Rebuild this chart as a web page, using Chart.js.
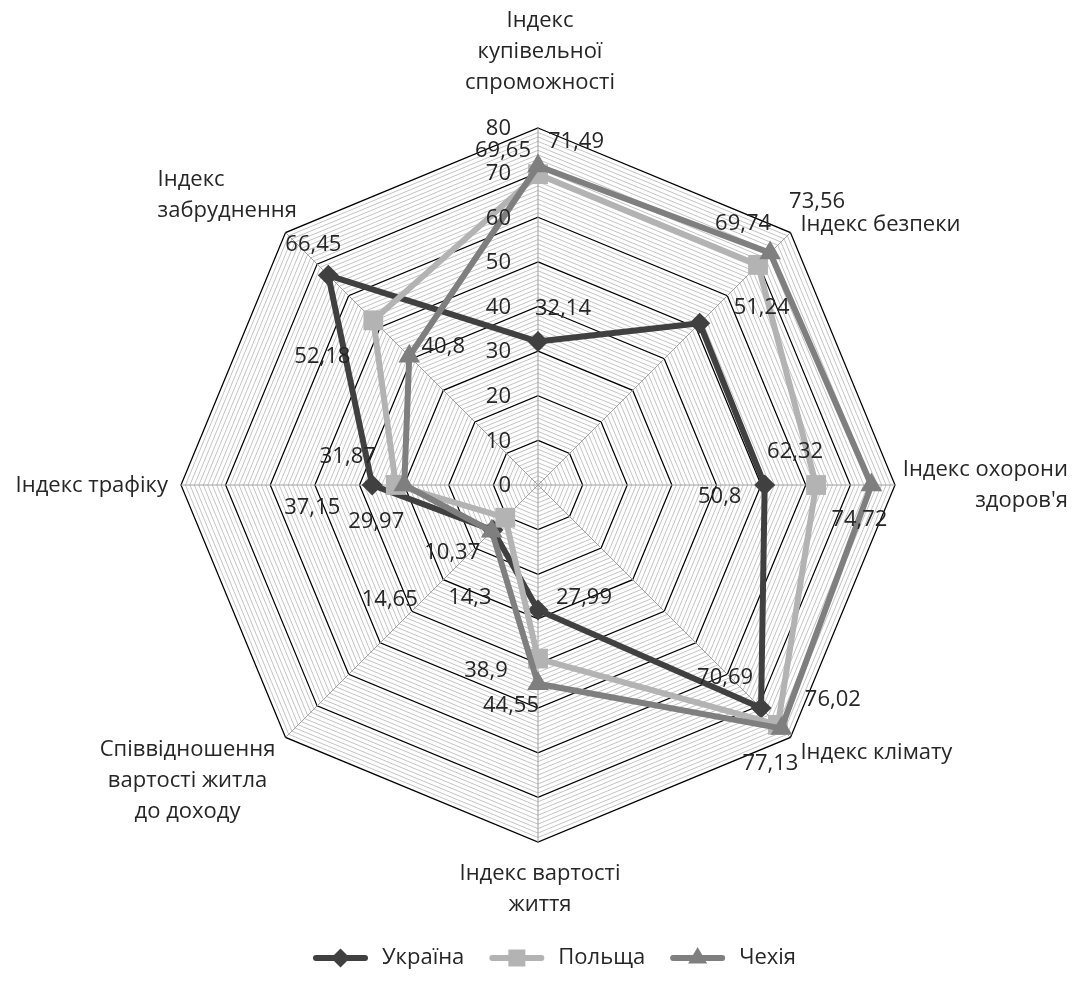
<!DOCTYPE html>
<html>
<head>
<meta charset="utf-8">
<script src="https://cdn.jsdelivr.net/npm/chart.js@4/dist/chart.umd.min.js"></script>
<style>
html,body{margin:0;padding:0;background:#ffffff;}
canvas{display:block;}
</style>
</head>
<body>
<canvas id="chart" width="1080" height="994"></canvas>
<script>
// ---------- DATA ----------
const categories = [
  ["Індекс", "купівельної", "спроможності"],
  ["Індекс безпеки"],
  ["Індекс охорони", "здоров'я"],
  ["Індекс клімату"],
  ["Індекс вартості", "життя"],
  ["Співвідношення", "вартості житла", "до доходу"],
  ["Індекс трафіку"],
  ["Індекс", "забруднення"]
];
const seriesNames = ["Україна", "Польща", "Чехія"];
const ukraine = [32.14, 51.24, 50.8, 70.69, 27.99, 14.3, 37.15, 66.45];
const poland  = [69.65, 69.74, 62.32, 76.02, 38.9, 10.37, 31.87, 52.18];
const czechia = [71.49, 73.56, 74.72, 77.13, 44.55, 14.65, 29.97, 40.8];
const tickValues = [0, 10, 20, 30, 40, 50, 60, 70, 80];

// ---------- STYLE / LAYOUT ----------
const FONT = "22px 'Open Sans', 'Noto Sans', sans-serif";
const TEXT = "#262626";
const colors = ["#404040", "#b3b3b3", "#7f7f7f"];
const markers = ["rectRot", "rect", "triangle"];
const markerRadius = [10.5, 14, 12.5];
const LINE_H = 31;

// category label placement relative to the outer vertex
const catLayout = [
  {dx: 2,    dy: -107, align: "center"},
  {dx: 10,   dy: -8,   align: "left"},
  {dx: 173,  dy: -15,  align: "right"},
  {dx: 10,   dy: 15,   align: "left"},
  {dx: 2,    dy: 32,   align: "center"},
  {dx: -98,  dy: 12,   align: "center"},
  {dx: -13,  dy: 1,    align: "right"},
  {dx: -128, dy: -53,  align: "left"}
];

// value label offsets (label centre relative to the point)
const valueOffsets = [
  [[25,-33],[62,-16],[-45,12],[-36,-30],[46,-12],[-23,68],[-60,23],[-15,-31]],
  [[-35,-23],[-15,-41],[-21,-33],[55,-25],[-52,12],[-53,35],[-48,-28],[-51,36]],
  [[38,-24],[47,-51],[-12,35],[-11,35],[-27,22],[-102,69],[-28,37],[34,-10]]
];

const fmt = v => String(v).replace(".", ",");

function drawMarker(ctx, style, x, y, r, color) {
  ctx.save();
  ctx.fillStyle = color;
  ctx.beginPath();
  if (style === "rectRot") {
    ctx.moveTo(x, y - r); ctx.lineTo(x + r, y); ctx.lineTo(x, y + r); ctx.lineTo(x - r, y);
  } else if (style === "rect") {
    const s = Math.SQRT1_2 * r;
    ctx.rect(x - s, y - s, 2 * s, 2 * s);
  } else {
    ctx.moveTo(x, y - r);
    ctx.lineTo(x + r * Math.sin(2 * Math.PI / 3), y - r * Math.cos(2 * Math.PI / 3));
    ctx.lineTo(x + r * Math.sin(4 * Math.PI / 3), y - r * Math.cos(4 * Math.PI / 3));
  }
  ctx.closePath();
  ctx.fill();
  ctx.restore();
}

const textPlugin = {
  id: "textPlugin",
  beforeDatasetsDraw(chart) {
    const r = chart.scales.r;
    const ctx = chart.ctx;
    ctx.save();
    ctx.font = FONT;
    ctx.fillStyle = TEXT;
    ctx.textBaseline = "middle";
    categories.forEach((lines, i) => {
      const p = r.getPointPositionForValue(i, r.max);
      const c = catLayout[i];
      ctx.textAlign = c.align;
      lines.forEach((t, k) => ctx.fillText(t, p.x + c.dx, p.y + c.dy + k * LINE_H));
    });
    ctx.restore();
  },
  afterDatasetsDraw(chart) {
    const r = chart.scales.r;
    const ctx = chart.ctx;
    ctx.save();
    ctx.font = FONT;
    ctx.fillStyle = TEXT;
    ctx.textBaseline = "middle";
    ctx.textAlign = "right";
    tickValues.forEach(v => {
      const p = r.getPointPositionForValue(0, v);
      ctx.fillText(String(v), p.x - 27, p.y + 1);
    });
    ctx.textAlign = "center";
    chart.data.datasets.forEach((ds, d) => {
      const meta = chart.getDatasetMeta(d);
      meta.data.forEach((pt, i) => {
        const o = valueOffsets[d][i];
        ctx.fillText(fmt(ds.data[i]), pt.x + o[0], pt.y + o[1]);
      });
    });
    ctx.restore();
  },
  afterDraw(chart) {
    // legend
    const ctx = chart.ctx;
    ctx.save();
    ctx.font = FONT;
    ctx.textBaseline = "middle";
    ctx.textAlign = "left";
    const y = 958;
    let x = 313;
    chart.data.datasets.forEach((ds, d) => {
      ctx.strokeStyle = colors[d];
      ctx.lineWidth = 6;
      ctx.lineCap = "round";
      ctx.beginPath();
      ctx.moveTo(x + 3, y); ctx.lineTo(x + 52, y);
      ctx.stroke();
      drawMarker(ctx, markers[d], x + 27.5, y, [9.5, 12, 11][d], colors[d]);
      x += 55 + 14;
      ctx.fillStyle = TEXT;
      ctx.fillText(ds.label, x, y);
      x += ctx.measureText(ds.label).width + 25;
    });
    ctx.restore();
  }
};

const seriesValues = [ukraine, poland, czechia];
const datasets = seriesValues.map((vals, d) => ({
  label: seriesNames[d],
  data: vals,
  borderColor: colors[d],
  backgroundColor: colors[d],
  borderWidth: 6,
  fill: false,
  tension: 0,
  pointStyle: markers[d],
  pointRadius: markerRadius[d],
  pointHoverRadius: markerRadius[d],
  pointBackgroundColor: colors[d],
  pointBorderColor: colors[d],
  pointBorderWidth: 0,
  order: 3 - d
}));

new Chart(document.getElementById("chart"), {
  type: "radar",
  data: { labels: categories, datasets },
  options: {
    responsive: false,
    animation: false,
    devicePixelRatio: 1,
    layout: { padding: { left: 181, right: 185, top: 128, bottom: 152 } },
    plugins: { legend: { display: false }, tooltip: { enabled: false } },
    elements: { line: { borderJoinStyle: "miter" } },
    scales: {
      r: {
        min: 0,
        max: 80,
        beginAtZero: true,
        ticks: { stepSize: 1, display: false },
        pointLabels: { display: false },
        grid: {
          circular: false,
          color: c => (c.tick && c.tick.value % 10 === 0) ? "#000000" : "#c4c4c4",
          lineWidth: c => (c.tick && c.tick.value % 10 === 0) ? 1.25 : 1
        },
        angleLines: { color: "#a0a0a0", lineWidth: 1 }
      }
    }
  },
  plugins: [textPlugin]
});
</script>
</body>
</html>
